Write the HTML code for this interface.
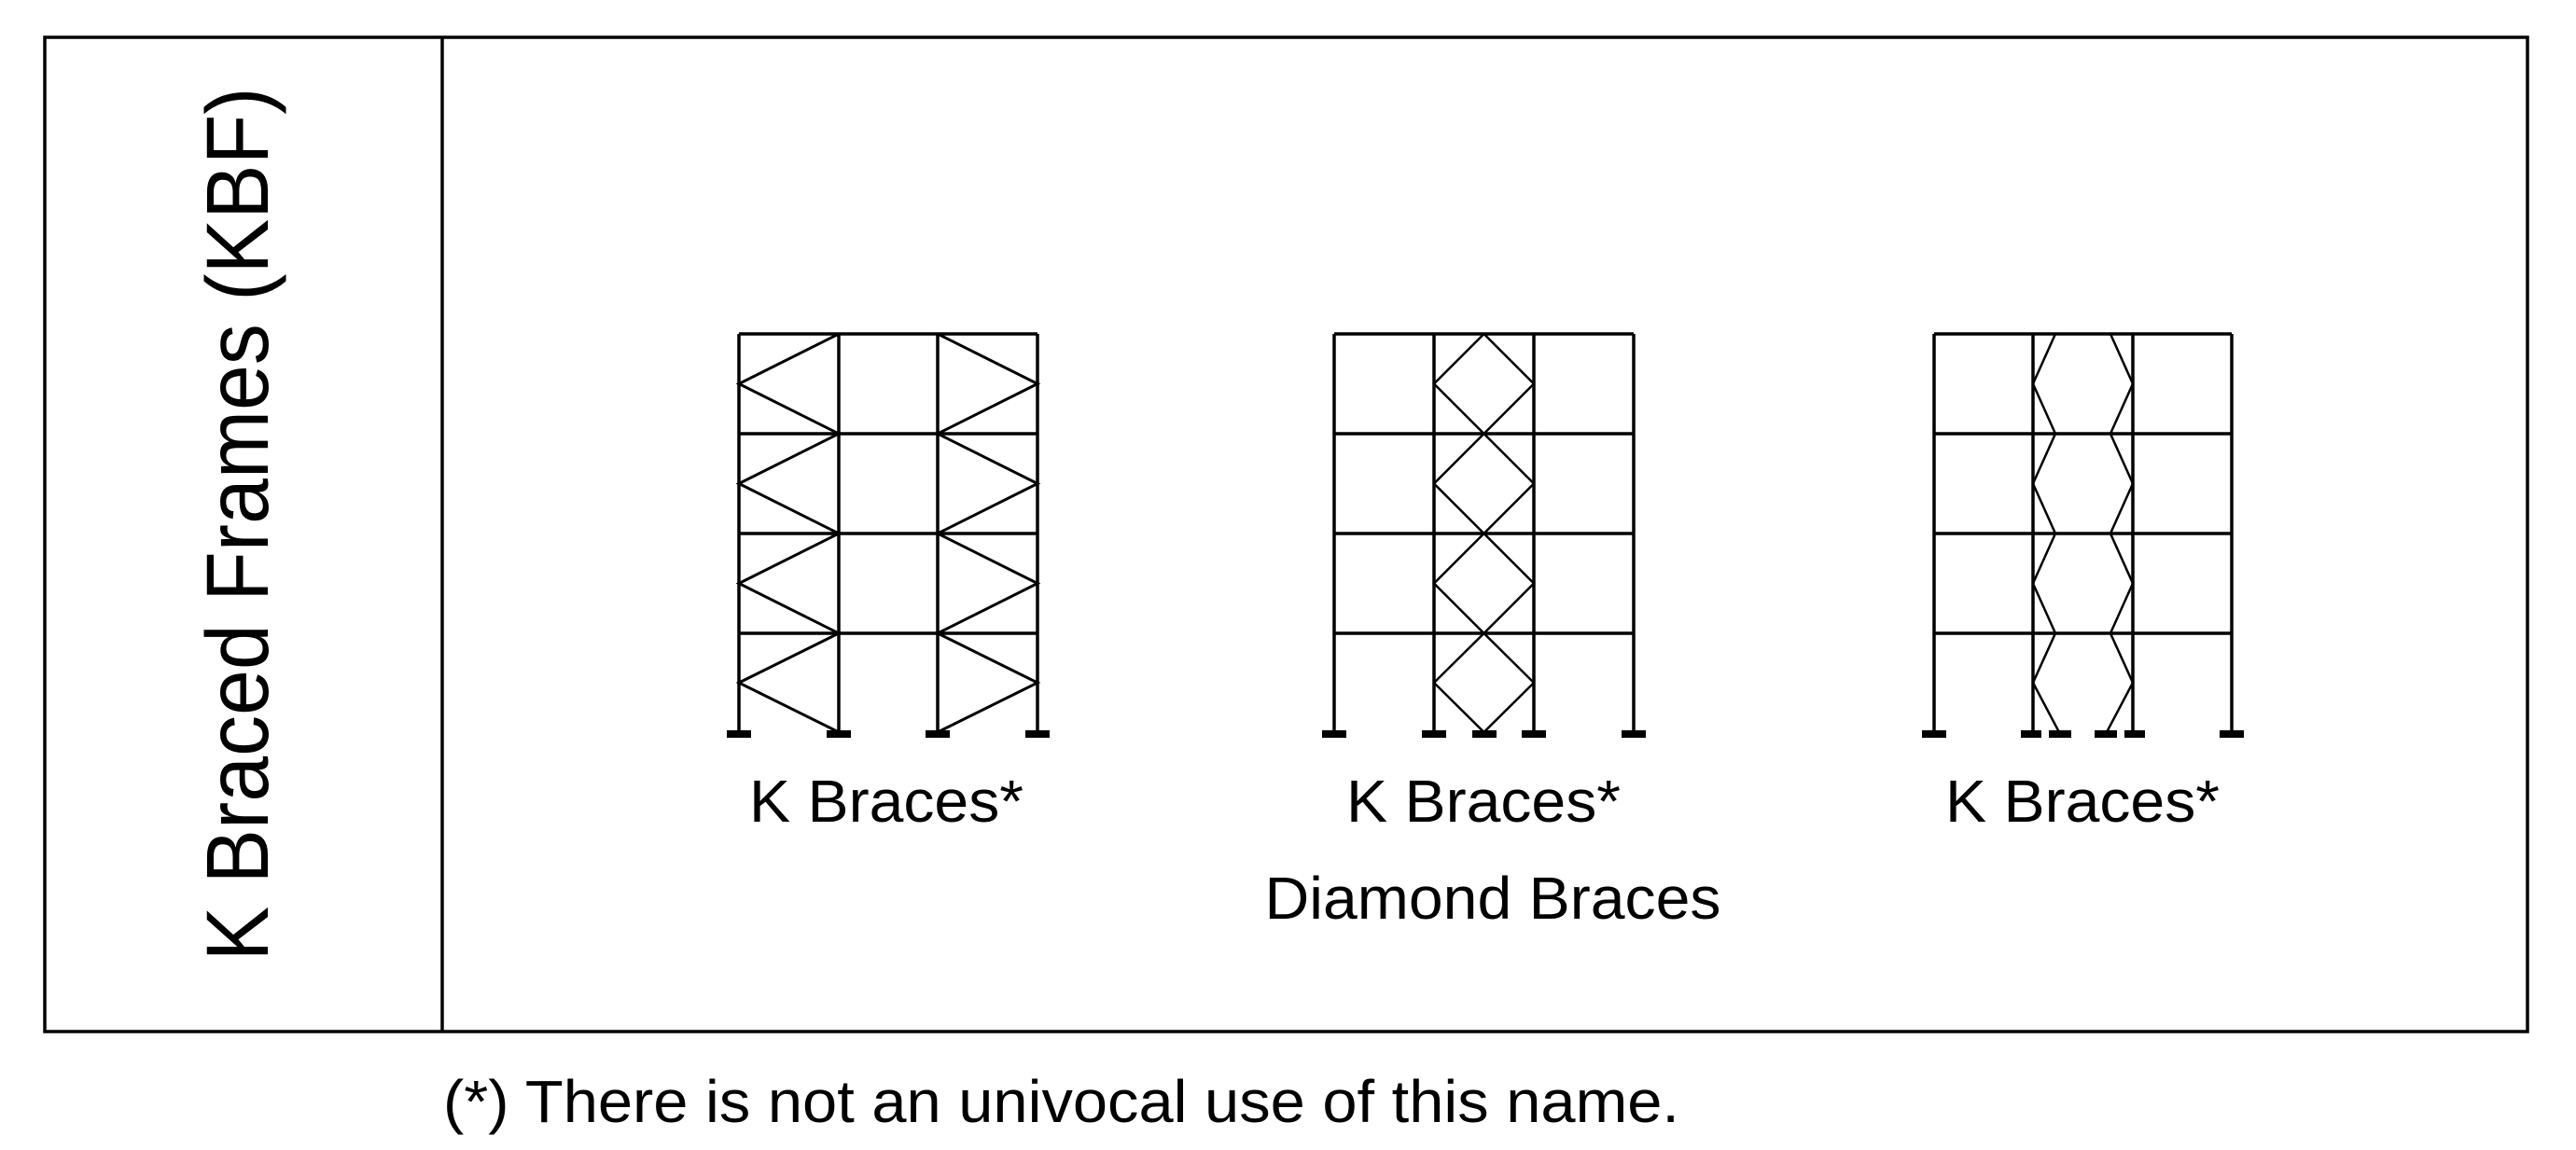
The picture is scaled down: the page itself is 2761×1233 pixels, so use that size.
<!DOCTYPE html>
<html><head><meta charset="utf-8"><style>
html,body{margin:0;padding:0;background:#fff;}
svg{display:block;}
text{font-family:"Liberation Sans",Arial,sans-serif;fill:#000;}
</style></head><body>
<svg width="2761" height="1233" viewBox="0 0 2761 1233" xmlns="http://www.w3.org/2000/svg">
<rect x="48" y="40" width="2661" height="1066" fill="none" stroke="#000" stroke-width="3.5"/>
<line x1="474" y1="40" x2="474" y2="1106" stroke="#000" stroke-width="3.5"/>
<text transform="translate(287,562) rotate(-90)" font-size="95" text-anchor="middle" textLength="937" lengthAdjust="spacingAndGlyphs">K Braced Frames (KBF)</text>

<g stroke="#000" fill="none">
<!-- Frame 1 -->
<g stroke-width="3.5">
<line x1="792" y1="358" x2="1112" y2="358"/><line x1="792" y1="465" x2="1112" y2="465"/>
<line x1="792" y1="572" x2="1112" y2="572"/><line x1="792" y1="679" x2="1112" y2="679"/>
<line x1="792" y1="358" x2="792" y2="786"/><line x1="899" y1="358" x2="899" y2="786"/>
<line x1="1005" y1="358" x2="1005" y2="786"/><line x1="1112" y1="358" x2="1112" y2="786"/>
</g>
<g stroke-width="3">
<polyline points="899,358 792,411.5 899,465 792,518.5 899,572 792,625.5 899,679 792,732 899,785"/>
<polyline points="1005,358 1112,411.5 1005,465 1112,518.5 1005,572 1112,625.5 1005,679 1112,732 1005,785"/>
</g>
<!-- Frame 2 -->
<g stroke-width="3.5">
<line x1="1430" y1="358" x2="1751" y2="358"/><line x1="1430" y1="465" x2="1751" y2="465"/>
<line x1="1430" y1="572" x2="1751" y2="572"/><line x1="1430" y1="679" x2="1751" y2="679"/>
<line x1="1430" y1="358" x2="1430" y2="786"/><line x1="1537" y1="358" x2="1537" y2="786"/>
<line x1="1644" y1="358" x2="1644" y2="786"/><line x1="1751" y1="358" x2="1751" y2="786"/>
</g>
<g stroke-width="2.5">
<polyline points="1590.5,358 1537,411.5 1590.5,465 1537,518.5 1590.5,572 1537,625.5 1590.5,679 1537,732 1590.5,785"/>
<polyline points="1590.5,358 1644,411.5 1590.5,465 1644,518.5 1590.5,572 1644,625.5 1590.5,679 1644,732 1590.5,785"/>
</g>
<!-- Frame 3 -->
<g stroke-width="3.5">
<line x1="2073" y1="358" x2="2392" y2="358"/><line x1="2073" y1="465" x2="2392" y2="465"/>
<line x1="2073" y1="572" x2="2392" y2="572"/><line x1="2073" y1="679" x2="2392" y2="679"/>
<line x1="2073" y1="358" x2="2073" y2="786"/><line x1="2179" y1="358" x2="2179" y2="786"/>
<line x1="2286" y1="358" x2="2286" y2="786"/><line x1="2392" y1="358" x2="2392" y2="786"/>
</g>
<g stroke-width="2.5">
<polyline points="2203,358 2179,411.5 2203,465 2179,518.5 2203,572 2179,625.5 2203,679 2179,732 2207,785"/>
<polyline points="2262,358 2286,411.5 2262,465 2286,518.5 2262,572 2286,625.5 2262,679 2286,732 2258,785"/>
</g>
</g>
<!-- feet -->
<g fill="#000">
<rect x="779" y="783" width="26" height="8"/><rect x="886" y="783" width="26" height="8"/>
<rect x="992" y="783" width="26" height="8"/><rect x="1099" y="783" width="26" height="8"/>
<rect x="1417" y="783" width="26" height="8"/><rect x="1524" y="783" width="26" height="8"/>
<rect x="1578" y="783" width="26" height="8"/><rect x="1631" y="783" width="26" height="8"/>
<rect x="1738" y="783" width="26" height="8"/>
<rect x="2060" y="783" width="26" height="8"/><rect x="2166" y="783" width="22" height="8"/>
<rect x="2196" y="783" width="24" height="8"/><rect x="2245" y="783" width="24" height="8"/>
<rect x="2277" y="783" width="22" height="8"/><rect x="2379" y="783" width="26" height="8"/>
</g>

<text x="950" y="881" font-size="64" text-anchor="middle" textLength="294" lengthAdjust="spacingAndGlyphs">K Braces*</text>
<text x="1590" y="881" font-size="64" text-anchor="middle" textLength="294" lengthAdjust="spacingAndGlyphs">K Braces*</text>
<text x="2232" y="881" font-size="64" text-anchor="middle" textLength="294" lengthAdjust="spacingAndGlyphs">K Braces*</text>
<text x="1600" y="985" font-size="64" text-anchor="middle" textLength="489" lengthAdjust="spacingAndGlyphs">Diamond Braces</text>
<text x="475" y="1203" font-size="64" textLength="1325" lengthAdjust="spacingAndGlyphs">(*) There is not an univocal use of this name.</text>
</svg>
</body></html>
